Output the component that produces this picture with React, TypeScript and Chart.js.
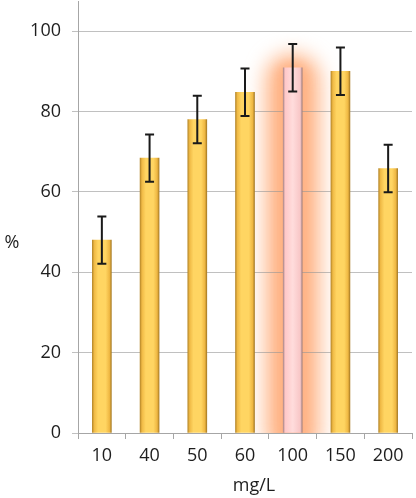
import { useEffect, useRef } from "react"
import { Chart, registerables } from "chart.js"

Chart.register(...registerables)

const categories = ["10", "40", "50", "60", "100", "150", "200"]
const values = [48, 68.4, 78, 84.8, 90.9, 90, 65.8]
const errors = [5.9, 5.9, 5.9, 5.9, 5.9, 5.9, 5.9]
const yTicks = [0, 20, 40, 60, 80, 100]
const highlightIndex = 4

const FONT = "'Open Sans', 'Noto Sans', sans-serif"

function barFill(ctx: any) {
    const chart = ctx.chart
    const idx = ctx.dataIndex
    const plain = idx === highlightIndex ? "#ffd0d0" : "#ffd766"
    const xs = chart.scales.x
    if (!xs || idx === undefined) return plain
    const cx = xs.getPixelForValue(idx)
    if (!Number.isFinite(cx)) return plain
    const half = 9.5
    const g = chart.ctx.createLinearGradient(cx - half, 0, cx + half, 0)
    if (idx === highlightIndex) {
        g.addColorStop(0, "#b08a8a")
        g.addColorStop(0.1, "#ffc8c8")
        g.addColorStop(0.5, "#ffdcdc")
        g.addColorStop(0.9, "#f8c6c6")
        g.addColorStop(1, "#a08080")
        return g
    }
    g.addColorStop(0, "#b8892a")
    g.addColorStop(0.1, "#f0ba45")
    g.addColorStop(0.3, "#ffd562")
    g.addColorStop(0.7, "#ffd562")
    g.addColorStop(0.9, "#efb742")
    g.addColorStop(1, "#a97d26")
    return g
}

// soft orange glow behind the highlighted bar, drawn under the grid
const glowPlugin = {
    id: "glow",
    beforeDraw(chart: any) {
        const el = chart.getDatasetMeta(0).data[highlightIndex]
        if (!el) return
        const { ctx, chartArea } = chart
        const w = el.width
        ctx.save()
        ctx.beginPath()
        ctx.rect(chartArea.left, chartArea.top, chartArea.right - chartArea.left, chartArea.bottom - chartArea.top)
        ctx.clip()
        ctx.filter = "blur(10px)"
        ctx.fillStyle = "rgba(255,172,120,0.85)"
        ctx.beginPath()
        ctx.roundRect(el.x - w / 2 - 18, el.y - 14, w + 36, el.base - el.y + 40, 26)
        ctx.fill()
        ctx.filter = "blur(5px)"
        ctx.fillStyle = "rgba(255,160,105,0.3)"
        ctx.beginPath()
        ctx.roundRect(el.x - w / 2 - 7, el.y - 6, w + 14, el.base - el.y + 20, 12)
        ctx.fill()
        ctx.restore()
    },
}

const errorBarPlugin = {
    id: "errorBars",
    afterDatasetsDraw(chart: any) {
        const { ctx } = chart
        const ys = chart.scales.y
        const meta = chart.getDatasetMeta(0)
        ctx.save()
        ctx.strokeStyle = "#1a1a1a"
        ctx.lineWidth = 2
        meta.data.forEach((el: any, i: number) => {
            const top = ys.getPixelForValue(values[i] + errors[i])
            const bot = ys.getPixelForValue(values[i] - errors[i])
            ctx.beginPath()
            ctx.moveTo(el.x, top)
            ctx.lineTo(el.x, bot)
            ctx.moveTo(el.x - 4.5, top)
            ctx.lineTo(el.x + 4.5, top)
            ctx.moveTo(el.x - 4.5, bot)
            ctx.lineTo(el.x + 4.5, bot)
            ctx.stroke()
        })
        ctx.restore()
    },
}

const titlesPlugin = {
    id: "axisTitles",
    afterDraw(chart: any) {
        const { ctx, chartArea } = chart
        ctx.save()
        ctx.fillStyle = "#1e1e1e"
        ctx.font = `18px ${FONT}`
        ctx.textAlign = "center"
        ctx.textBaseline = "middle"
        ctx.fillText("%", 12, 243)
        ctx.fillText("mg/L", (chartArea.left + chartArea.right) / 2 + 9, 486)
        ctx.restore()
    },
}

export default function App() {
    const chartRef = useRef<HTMLCanvasElement>(null)
    const chartInstance = useRef<Chart | null>(null)

    useEffect(() => {
        document.body.style.margin = "0"
        if (!chartRef.current) return
        const ctx = chartRef.current.getContext("2d")
        if (!ctx) return

        if (chartInstance.current) {
            chartInstance.current.destroy()
        }

        chartInstance.current = new Chart(ctx, {
            type: "bar",
            data: {
                labels: categories,
                datasets: [
                    {
                        data: values,
                        backgroundColor: barFill,
                        borderWidth: 0,
                        barThickness: 19,
                    },
                ],
            },
            options: {
                responsive: true,
                maintainAspectRatio: false,
                animation: false,
                layout: { padding: { top: 1, right: 4, left: 0, bottom: 0 } },
                plugins: {
                    legend: { display: false },
                    tooltip: { enabled: false },
                },
                scales: {
                    x: {
                        offset: true,
                        grid: {
                            offset: true,
                            drawOnChartArea: false,
                            drawTicks: true,
                            tickLength: 6,
                            color: "#a6a6a6",
                        },
                        border: { color: "#a6a6a6" },
                        ticks: {
                            color: "#1e1e1e",
                            font: { family: FONT, size: 18 },
                            padding: 6,
                            maxRotation: 0,
                        },
                        afterFit: (s: any) => {
                            s.height = 65
                            s.paddingLeft = 0
                            s.paddingRight = 0
                        },
                    },
                    y: {
                        min: 0,
                        max: 107.5,
                        afterBuildTicks: (s: any) => {
                            s.ticks = yTicks.map((v) => ({ value: v }))
                        },
                        grid: {
                            color: "rgba(150,150,150,0.6)",
                            tickLength: 6,
                        },
                        border: { color: "#a6a6a6" },
                        ticks: {
                            color: "#1e1e1e",
                            font: { family: FONT, size: 18 },
                            padding: 11,
                        },
                        afterFit: (s: any) => {
                            s.width = 78
                            s.paddingTop = 0
                            s.paddingBottom = 0
                        },
                    },
                },
            },
            plugins: [glowPlugin, errorBarPlugin, titlesPlugin],
        })

        return () => {
            if (chartInstance.current) {
                chartInstance.current.destroy()
                chartInstance.current = null
            }
        }
    }, [])

    return (
        <div style={{ width: 416, height: 498, position: "relative", background: "#fff" }}>
            <canvas ref={chartRef}></canvas>
        </div>
    )
}
